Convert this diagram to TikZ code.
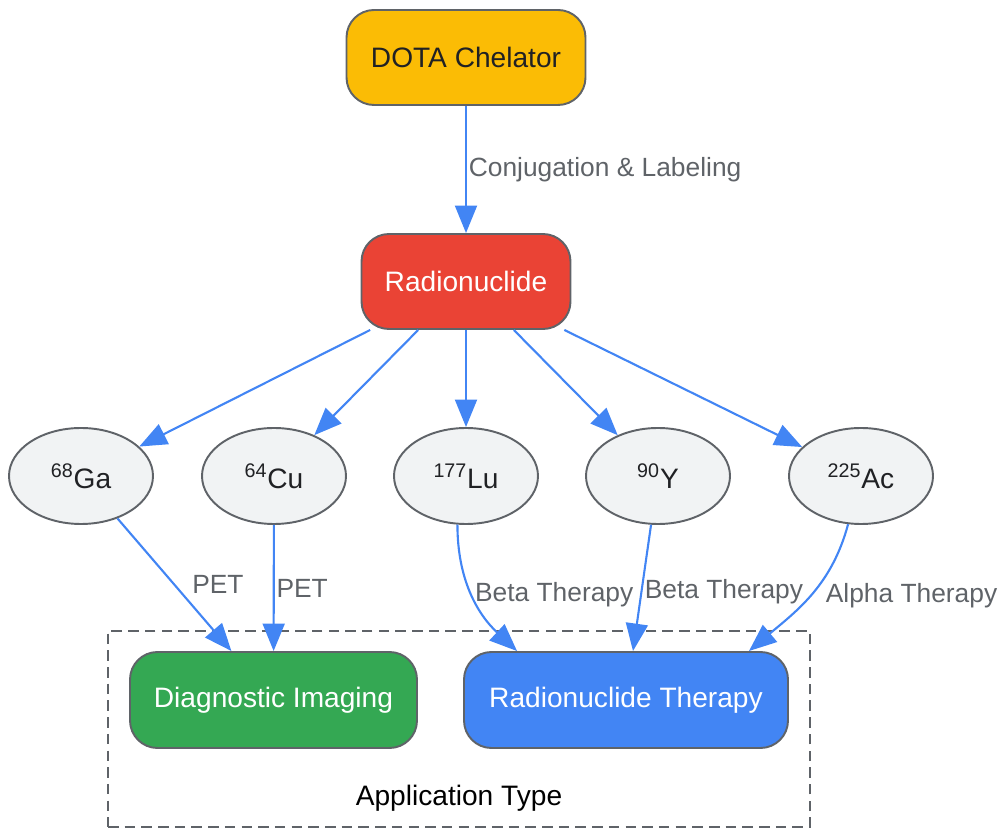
\documentclass[tikz,border=0pt]{standalone}
\usepackage{fontspec}
\setmainfont{Liberation Sans}
\usetikzlibrary{arrows.meta,shapes.geometric}

\definecolor{gyellow}{HTML}{FBBC05}
\definecolor{gred}{HTML}{EA4335}
\definecolor{ggreen}{HTML}{34A853}
\definecolor{gblue}{HTML}{4285F4}
\definecolor{glight}{HTML}{F1F3F4}
\definecolor{ggray}{HTML}{5F6368}
\definecolor{gdark}{HTML}{202124}

\begin{document}
\begin{tikzpicture}[line width=1.1pt,
    box/.style = {draw=ggray, rounded corners=0.55cm, minimum height=1.9cm, font=\fontsize{16}{19}\selectfont},
    iso/.style = {draw=ggray, ellipse, fill=glight, text=gdark, minimum width=2.88cm, minimum height=1.92cm, font=\fontsize{16}{19}\selectfont},
    link/.style = {draw=gblue, line width=1.2pt, -{Triangle[length=0.55cm,width=0.44cm]}},
    lbl/.style = {text=ggray, anchor=west, inner sep=1pt, font=\fontsize{15}{18}\selectfont}]
      \useasboundingbox (0,0) rectangle (20,-16.58);

      % application type group
      \node[draw=ggray, dashed, dash pattern=on 6pt off 3.5pt, minimum width=14.04cm, minimum height=3.92cm] (app) at (9.18,-14.58) {};
      \node[font=\fontsize{16}{19}\selectfont] (applbl) at (9.18,-15.96) {Application Type};

      \node[box, fill=gyellow, text=gdark, minimum width=4.78cm](dota) at (9.32,-1.15) {DOTA Chelator};
      \node[box, fill=gred, text=white, minimum width=4.18cm](rad) at (9.32,-5.63) {Radionuclide};

      \node[iso](ga) at (1.62,-9.52) {\textsuperscript{68}Ga};
      \node[iso](cu) at (5.48,-9.52) {\textsuperscript{64}Cu};
      \node[iso](lu) at (9.32,-9.52) {\textsuperscript{177}Lu};
      \node[iso](y) at (13.16,-9.52) {\textsuperscript{90}Y};
      \node[iso](ac) at (17.22,-9.52) {\textsuperscript{225}Ac};

      \node[box, fill=ggreen, text=white, minimum width=5.74cm, minimum height=1.92cm](diag) at (5.47,-14.0) {Diagnostic Imaging};
      \node[box, fill=gblue, text=white, minimum width=6.48cm, minimum height=1.92cm](ther) at (12.52,-14.0) {Radionuclide Therapy};

      \path
      (dota) edge[link] node[lbl]{Conjugation \& Labeling} (rad)
      (rad) edge[link] (ga)
      (rad) edge[link] (cu)
      (rad) edge[link] (lu)
      (rad) edge[link] (y)
      (rad) edge[link] (ac)
      (ga) edge[link] node[lbl, xshift=0.3cm]{PET} (diag)
      (cu) edge[link] node[lbl]{PET} (diag)
      (lu.260) edge[link, out=-90, in=137] node[lbl]{Beta Therapy} ([xshift=1.08cm]ther.north west)
      (y) edge[link] node[lbl, yshift=-0.08cm]{Beta Therapy} (ther)
      (ac.255) edge[link, out=-105, in=40] node[lbl, xshift=0.25cm]{Alpha Therapy} ([xshift=-0.8cm]ther.north east)
      ;

    \end{tikzpicture}
\end{document}
